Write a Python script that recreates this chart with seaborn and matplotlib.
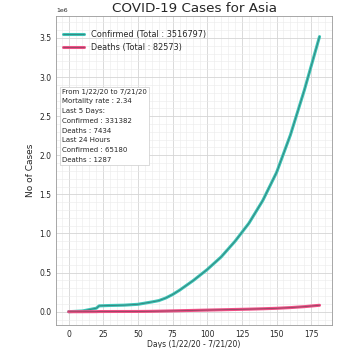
import matplotlib
matplotlib.use('Agg')
import matplotlib.pyplot as plt
import matplotlib.patheffects as pe
import seaborn as sns
import pandas as pd

# days since 1/22/20 and cumulative counts
days = [0, 10, 20, 22, 30, 40, 50, 55, 60, 65, 70, 75, 80, 90, 100,
        110, 120, 130, 140, 150, 160, 170, 181]
confirmed = [555, 9800, 45000, 75000, 80000, 84000, 95000, 110000, 125000,
             142000, 175000, 220000, 275000, 400000, 540000, 700000, 900000,
             1130000, 1420000, 1780000, 2260000, 2830000, 3516797]
deaths = [17, 210, 1100, 2400, 2900, 3200, 3600, 4400, 5500, 7200, 9000,
          11000, 13000, 17000, 21000, 25000, 29000, 33000, 38000, 44000,
          53000, 65000, 82573]

region = 'Asia'
date_range = '1/22/20 - 7/21/20'
info = ['From 1/22/20 to 7/21/20', 'Mortality rate : 2.34', 'Last 5 Days:',
        'Confirmed : 331382', 'Deaths : 7434', 'Last 24 Hours',
        'Confirmed : 65180', 'Deaths : 1287']

df = pd.DataFrame({'day': days, 'Confirmed': confirmed, 'Deaths': deaths})

sns.set_style('whitegrid')
plt.rcParams['font.family'] = ['DejaVu Sans']

fig, ax = plt.subplots(figsize=(3.42, 3.48), dpi=100)
plt.subplots_adjust(left=0.164, right=0.971, top=0.954, bottom=0.066)

# coloured line with a darker thin core, as in the original
sns.lineplot(data=df, x='day', y='Confirmed', ax=ax, color='lightseagreen',
             linewidth=2.2, label=f'Confirmed (Total : {confirmed[-1]})',
             path_effects=[pe.Stroke(linewidth=2.2, foreground='#3cc4b6'),
                           pe.Stroke(linewidth=0.6, foreground='#35807a')])
sns.lineplot(data=df, x='day', y='Deaths', ax=ax, color='#e8336e',
             linewidth=2.2, label=f'Deaths (Total : {deaths[-1]})',
             path_effects=[pe.Stroke(linewidth=2.2, foreground='#ee5086'),
                           pe.Stroke(linewidth=0.6, foreground='#8f4660')])

ax.set_title(f'COVID-19 Cases for {region}', fontsize=9.7, pad=3)
ax.set_xlabel(f'Days ({date_range})', fontsize=5.5, labelpad=1)
ax.set_ylabel('No of Cases', fontsize=6.5, labelpad=3)
ax.tick_params(labelsize=5.5, pad=1.5, length=2)
ax.yaxis.get_offset_text().set_fontsize(4.5)
ax.set_xticks(range(0, 176, 25))
ax.set_ylim(-0.17e6, 3.78e6)

ax.minorticks_on()
ax.grid(which='major', color='#d4d4d4', linewidth=0.6)
ax.grid(which='minor', color='#ebebeb', linewidth=0.4)
for s in ax.spines.values():
    s.set_color('#999999')
    s.set_linewidth(0.6)

ax.legend(loc='upper left', bbox_to_anchor=(0.0, 0.98), fontsize=5.9,
          frameon=False, handlelength=2.5)
ax.text(0.02, 0.765, '\n'.join(info), transform=ax.transAxes, fontsize=5,
        va='top', ha='left', linespacing=1.75,
        bbox=dict(facecolor='white', edgecolor='#cccccc', boxstyle='square,pad=0.3', linewidth=0.5))

fig.savefig('out.png', dpi=100)
